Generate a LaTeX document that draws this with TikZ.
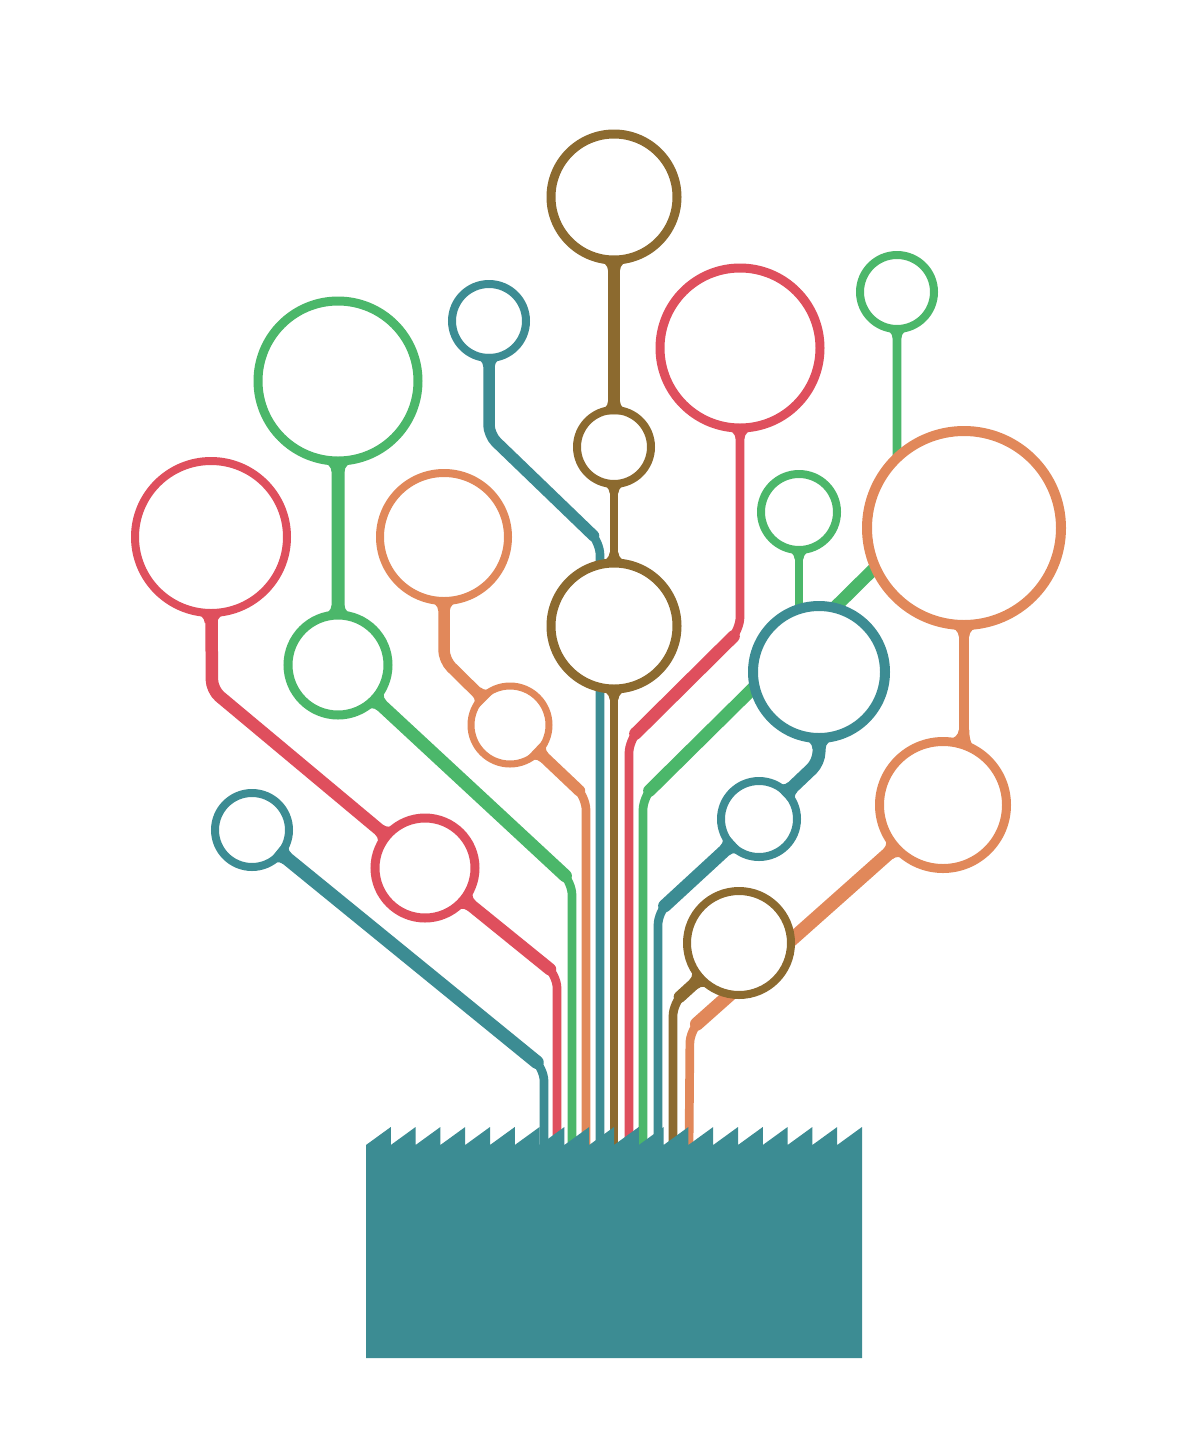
\documentclass[tikz,border=0pt]{standalone}
\usepackage{tikz}
\newdimen\pxu \pxu=0.02cm
\definecolor{cteal}{HTML}{3C8C93}
\definecolor{cred}{HTML}{DF4F5D}
\definecolor{cgreen}{HTML}{4BB76A}
\definecolor{corange}{HTML}{E1885A}
\definecolor{cbrown}{HTML}{8C6A2F}
\pgfdeclarelayer{back}
\pgfdeclarelayer{bg}
\pgfsetlayers{back,bg,main}
% fillet: colour, node, outer radius, angle, half width, offset
\newcommand\fil[6]{%
  \pgfmathsetmacro\fua{sqrt((#3)*(#3)-((#6)-(#5)-9)*((#6)-(#5)-9))-1.5}%
  \pgfmathsetmacro\fub{sqrt((#3)*(#3)-((#6)+(#5)+9)*((#6)+(#5)+9))-1.5}%
  \pgfmathsetmacro\fva{(#6)-(#5)}%
  \pgfmathsetmacro\fvb{(#6)+(#5)}%
  \pgfmathsetmacro\fuc{max(\fua,\fub)+9}%
  \fill[#1, shift={(#2.center)}, rotate=#4]
    (\fua-4, \fva-9) -- (\fua, \fva-9) .. controls (\fua, \fva-5) and (\fua+4, \fva) .. (\fuc, \fva)
    -- (\fuc, \fvb) .. controls (\fub+4, \fvb) and (\fub, \fvb+5) .. (\fub, \fvb+9) -- (\fub-4, \fvb+9) -- cycle;
}
\begin{document}
\begin{tikzpicture}[x=0.02cm,y=-0.02cm,
  ring/.style={circle, draw, fill=white, inner sep=0pt, outer sep=0pt},
  thn/.style={line width=8.7\pxu, line cap=round, line join=round, rounded corners=13\pxu},
  thk/.style={line width=#1\pxu, line cap=round, line join=round, rounded corners=10\pxu, shorten >=9\pxu}]
\useasboundingbox (0,0) rectangle (1200,1444);
\begin{pgfonlayer}{back}
\fill[white] (0,0) rectangle (1200,1444);
\end{pgfonlayer}

% circles
\node[ring, draw=cbrown, line width=9\pxu, minimum size=126\pxu] (c1) at (614,197) {};
\node[ring, draw=cbrown, line width=8\pxu, minimum size=74\pxu] (c2) at (614,447) {};
\node[ring, draw=cbrown, line width=9\pxu, minimum size=126\pxu] (c3) at (614,626) {};
\node[ring, draw=cred, line width=9\pxu, minimum size=160\pxu] (c4) at (740,348) {};
\node[ring, draw=cgreen, line width=9\pxu, minimum size=160\pxu] (c5) at (338,381) {};
\node[ring, draw=cteal, line width=8\pxu, minimum size=74\pxu] (c6) at (489,321) {};
\node[ring, draw=cgreen, line width=8\pxu, minimum size=74\pxu] (c7) at (897,292) {};
\node[ring, draw=cred, line width=8\pxu, minimum size=152\pxu] (c8) at (211,537) {};
\node[ring, draw=corange, line width=8\pxu, minimum size=128\pxu] (c9) at (444,537) {};
\node[ring, draw=cgreen, line width=9\pxu, minimum size=100\pxu] (c10) at (338,665) {};
\node[ring, draw=corange, line width=7\pxu, minimum size=78\pxu] (c11) at (510,725) {};
\node[ring, draw=cteal, line width=8\pxu, minimum size=74\pxu] (c12) at (252,830) {};
\node[ring, draw=cred, line width=9\pxu, minimum size=100\pxu] (c13) at (425,868) {};
\node[ring, draw=cgreen, line width=8\pxu, minimum size=76\pxu] (c14) at (799,512) {};
\node[ring, draw=corange, line width=10\pxu, minimum size=194\pxu] (c15) at (964,528) {};
\node[ring, draw=cteal, line width=10\pxu, minimum size=132\pxu] (c16) at (819,672) {};
\node[ring, draw=cteal, line width=8\pxu, minimum size=76\pxu] (c17) at (759,819) {};
\node[ring, draw=corange, line width=9\pxu, minimum size=127\pxu] (c18) at (943,805) {};
\node[ring, draw=cbrown, line width=8\pxu, minimum size=104\pxu] (c19) at (739,943) {};

% trunk ends and free ends
\coordinate (t1) at (544,1150);
\coordinate (t2) at (557,1150);
\coordinate (t3) at (572,1150);
\coordinate (t4) at (586,1150);
\coordinate (t5) at (600,1150);
\coordinate (t6) at (614,1150);
\coordinate (t7) at (629,1150);
\coordinate (t8) at (643,1150);
\coordinate (t9) at (658,1150);
\coordinate (t10) at (673,1150);
\coordinate (t11) at (689,1150);
\coordinate (e9) at (799,650);
\coordinate (e12) at (964,770);

\begin{pgfonlayer}{bg}
% P1 teal
\draw[cteal, thn] (c12.center) -- (544,1068) -- (t1);
\draw[cteal, thk=13.5] (c12.center) -- (544,1068);
% P2 red
\draw[cred, thn] (c8.center) -- (212,690) -- (c13.center) -- (557,975) -- (t2);
\draw[cred, thk=12.5] (c8.center) -- (212,690) -- (c13.center) -- (557,975);
% P3 green
\draw[cgreen, thn] (c5.center) -- (c10.center) -- (572,882) -- (t3);
\draw[cgreen, thk=13] (c5.center) -- (c10.center) -- (572,882);
% P4 orange
\draw[corange, thn] (c9.center) -- (444,660) -- (c11.center) -- (586,797) -- (t4);
\draw[corange, thk=11.5] (c9.center) -- (444,660) -- (c11.center) -- (586,797);
% P5 teal
\draw[cteal, thn] (c6.center) -- (489,435) -- (600,542) -- (t5);
\draw[cteal, thk=11.5] (c6.center) -- (489,435) -- (600,542);
% P6 brown
\draw[cbrown, thn] (c1.center) -- (c2.center) -- (c3.center) -- (t6);
\draw[cbrown, thk=12] (c1.center) -- (c2.center);
% P7 red
\draw[cred, thn] (c4.center) -- (740,630) -- (629,740) -- (t7);
\draw[cred, thk=12.5, shorten <=9\pxu] (740,630) -- (629,740);
% P8 green
\draw[cgreen, thn] (c7.center) -- (897,546) -- (643,797) -- (t8);
\draw[cgreen, thk=12.5] (897,546) -- (643,797);
% P9 green
\draw[cgreen, thn] (c14.center) -- (e9);
% P10 teal
\draw[cteal, thn] (c16.center) -- (819,762) -- (c17.center) -- (658,912) -- (t9);
\draw[cteal, thk=13] (c16.center) -- (819,762) -- (c17.center) -- (658,912);
% P11 brown
\draw[cbrown, thn] (c19.center) -- (673,1003) -- (t10);
\draw[cbrown, thk=12] (c19.center) -- (673,1003);
% P12 orange
\draw[corange, thk=10.5] (c15.center) -- (e12);
\draw[corange, thn] (c18.center) -- (690,1030) -- (t11);
\draw[corange, thk=13.5] (c18.center) -- (690,1030);
\end{pgfonlayer}

% fillets
\fil{cbrown}{c1}{67.5}{-90}{6}{0}
\fil{cbrown}{c2}{41}{90}{6}{0}
\fil{cbrown}{c2}{41}{-90}{4.35}{0}
\fil{cbrown}{c3}{67.5}{90}{4.35}{0}
\fil{cbrown}{c3}{67.5}{-90}{4.35}{0}
\fil{cred}{c4}{84.5}{-90}{4.35}{0}
\fil{cgreen}{c5}{84.5}{-90}{6.5}{0}
\fil{cgreen}{c10}{54.5}{90}{6.5}{0}
\fil{cgreen}{c10}{54.5}{-42.8}{6.5}{0}
\fil{cteal}{c6}{41}{-90}{5.75}{0}
\fil{cgreen}{c7}{41}{-90}{4.35}{0}
\fil{cred}{c8}{80}{-90}{6.25}{0}
\fil{corange}{c9}{68}{-90}{5.75}{0}
\fil{corange}{c11}{42.5}{135}{5.75}{0}
\fil{corange}{c11}{42.5}{-43.5}{5.75}{0}
\fil{cteal}{c12}{41}{-39.2}{6.75}{0}
\fil{cred}{c13}{54.5}{140.1}{6.25}{0}
\fil{cred}{c13}{54.5}{-39}{6.25}{0}
\fil{cgreen}{c14}{42}{-90}{4.35}{0}
\fil{corange}{c15}{102}{-90}{5.25}{0}
\fil{cteal}{c16}{71}{-90}{6.5}{0}
\fil{cteal}{c17}{42}{43.5}{6.5}{0}
\fil{cteal}{c17}{42}{-137.4}{6.5}{0}
\fil{corange}{c18}{68}{90}{5.25}{21}
\fil{corange}{c18}{68}{-138.3}{6.75}{0}
\fil{cbrown}{c19}{56}{-137.7}{6}{0}

% base
\fill[cteal] (366,1358) -- (366,1145)
  \foreach \k in {1,...,19} { -- ({366+24.8*\k},1127) -- ({366+24.8*\k},1145) }
  -- (862,1127) -- (862,1358) -- cycle;
\end{tikzpicture}
\end{document}
